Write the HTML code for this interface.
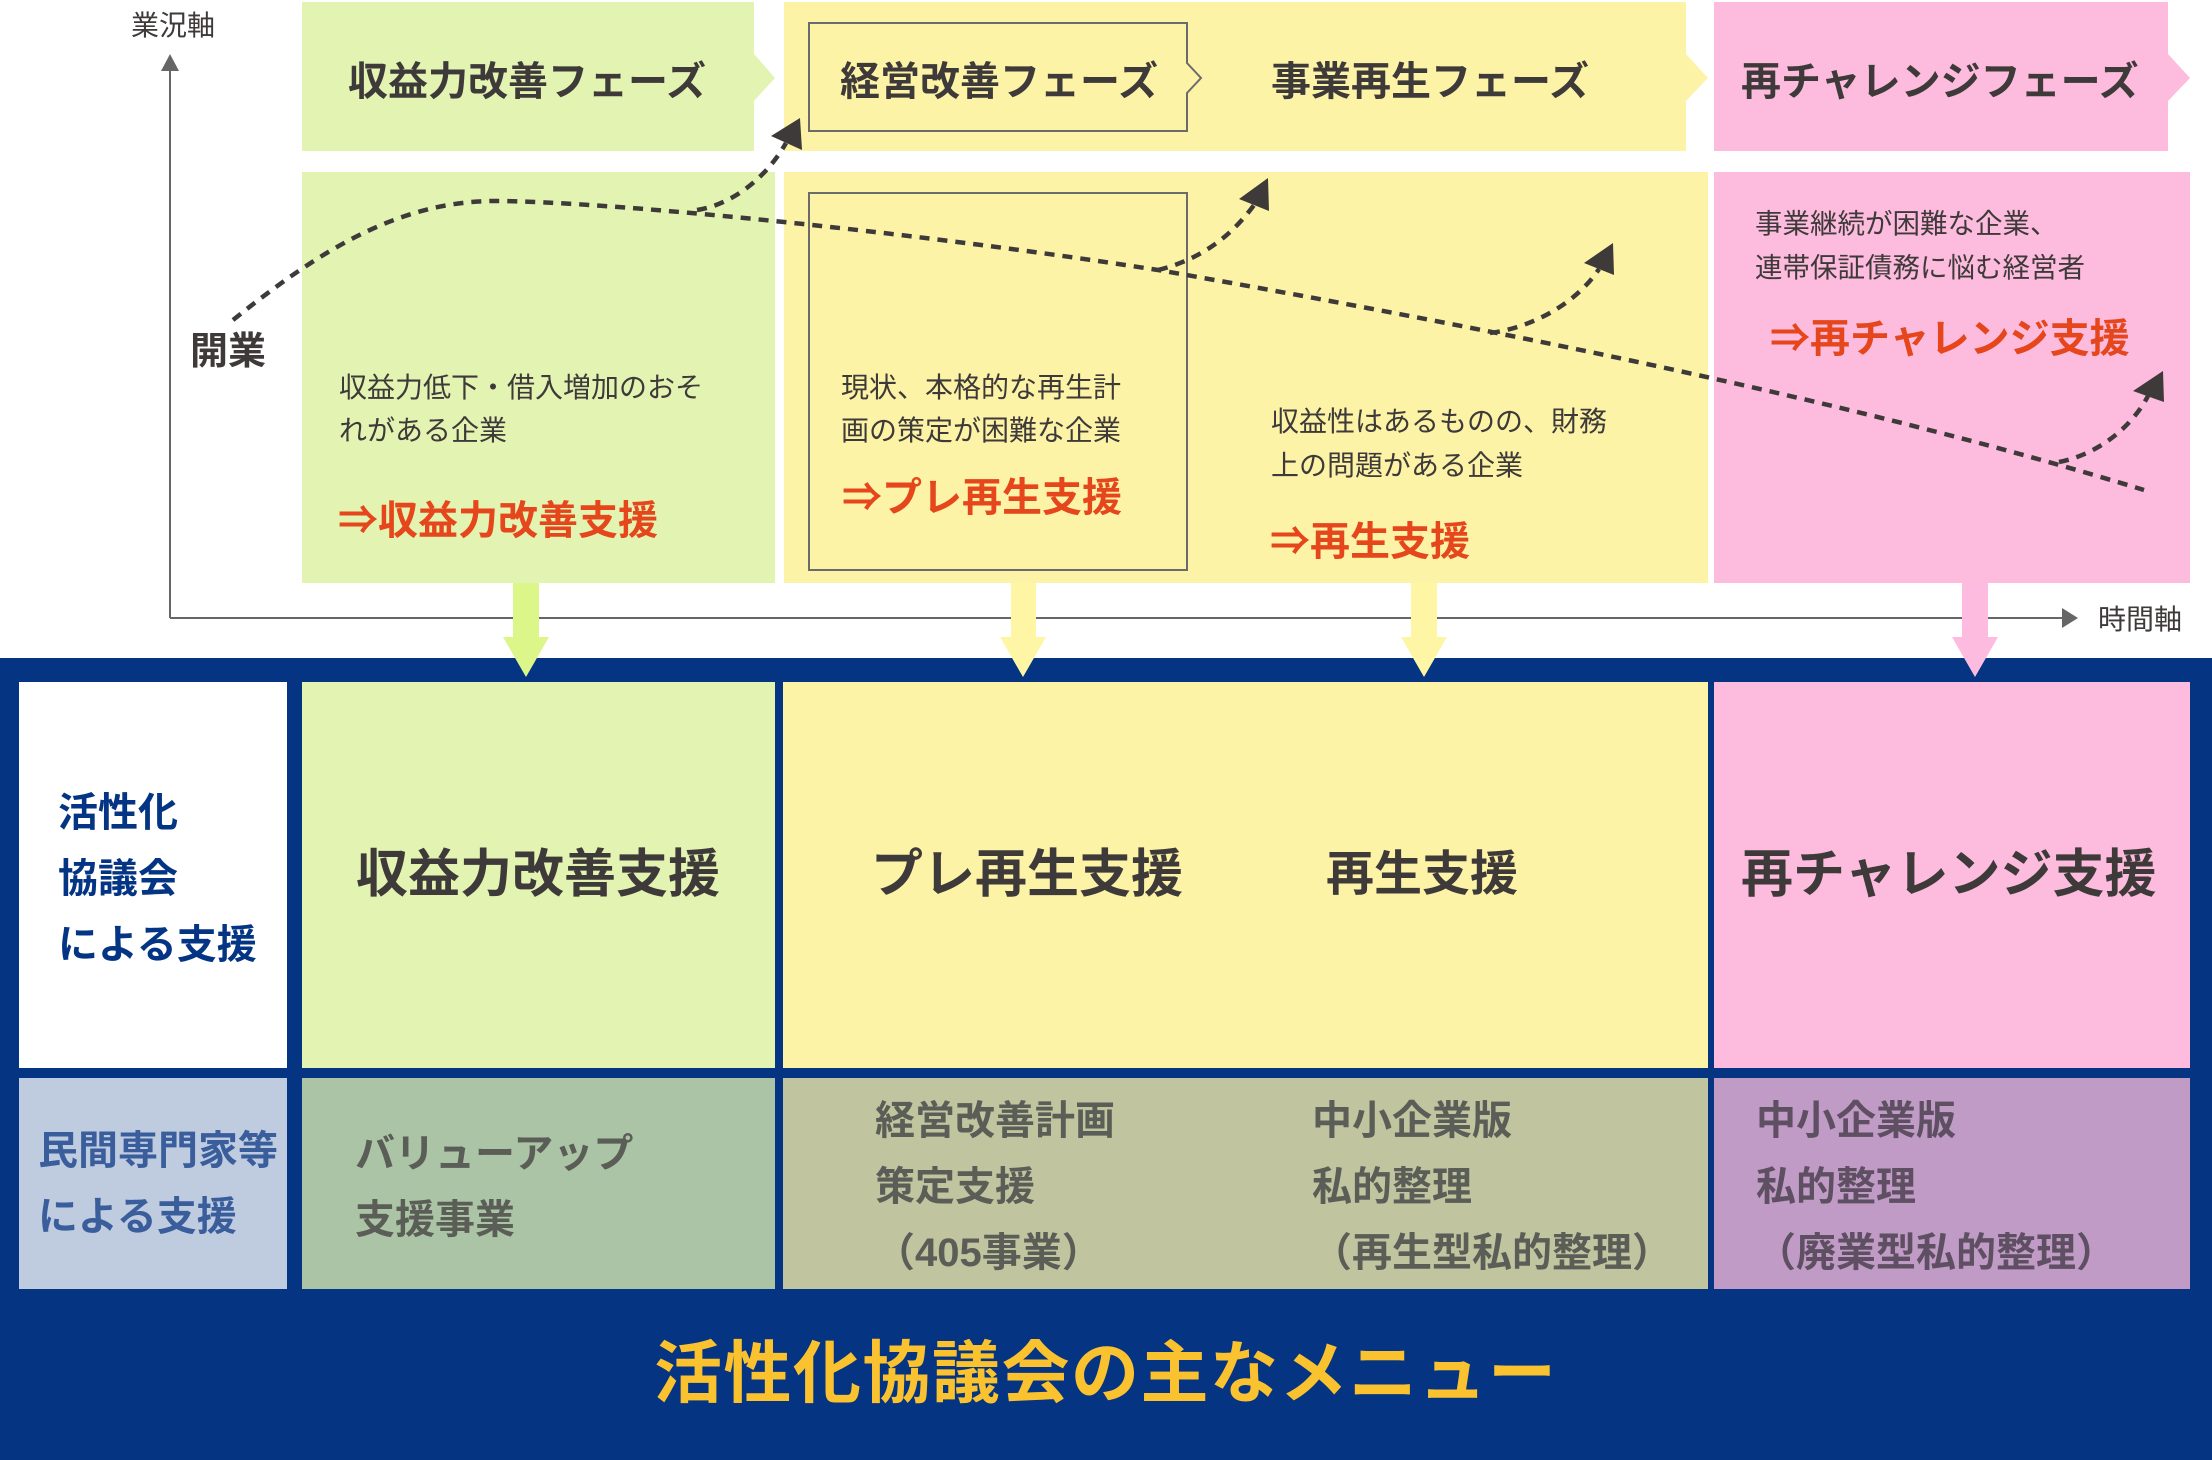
<!DOCTYPE html>
<html><head><meta charset="utf-8">
<style>
html,body{margin:0;padding:0;background:#fff;}
#c{position:relative;width:2212px;height:1460px;overflow:hidden;background:#fff;font-family:"Liberation Sans","Noto Sans CJK JP",sans-serif;}
svg{position:absolute;left:0;top:0;}
.t{position:absolute;white-space:nowrap;color:#3e3a39;}
.ph{font-size:40px;line-height:40px;font-weight:700;}
.ct{font-size:28px;line-height:43px;font-weight:400;}
.rd{font-size:40px;line-height:40px;font-weight:700;color:#e5461c;}
.ar{font-family:"Noto Sans CJK JP",sans-serif;}
.lc{font-size:40px;line-height:66px;font-weight:700;color:#043585;}
.bc{font-size:40px;line-height:66px;font-weight:700;color:#3a5d9c;}
.gb{font-size:40px;line-height:66px;font-weight:700;color:#5b5d57;}
.pb{font-size:40px;line-height:66px;font-weight:700;color:#5e4f62;}
.big{font-size:52px;line-height:52px;font-weight:700;}
</style></head><body>
<div id="c">
<svg width="2212" height="1460" viewBox="0 0 2212 1460">
  <polygon points="302,2 754,2 754,54 775,78 754,101 754,151 302,151" fill="#e3f3b2"/>
  <polygon points="784,2 1686,2 1686,54 1708,78 1686,101 1686,151 784,151" fill="#fdf3a7"/>
  <polygon points="1714,2 2168,2 2168,54 2190,78 2168,101 2168,151 1714,151" fill="#fdbbde"/>
  <path d="M1187,63 L1187,23 L809,23 L809,131 L1187,131 L1187,93 L1201,78 Z" fill="none" stroke="#6b6b6b" stroke-width="2"/>
  <rect x="302" y="172" width="473" height="411" fill="#e3f3b2"/>
  <rect x="784" y="172" width="924" height="411" fill="#fdf3a7"/>
  <rect x="1714" y="172" width="476" height="411" fill="#fdbbde"/>
  <rect x="809" y="193" width="378" height="377" fill="none" stroke="#6b6b6b" stroke-width="2"/>
  <line x1="170" y1="66" x2="170" y2="618" stroke="#666" stroke-width="2"/>
  <polygon points="170,54 161,71 179,71" fill="#666"/>
  <line x1="170" y1="618" x2="2064" y2="618" stroke="#666" stroke-width="2"/>
  <polygon points="2078,618 2062,608 2062,628" fill="#666"/>
  <rect x="0" y="658" width="2212" height="802" fill="#043482"/>
  <rect x="19" y="682" width="268" height="386" fill="#ffffff"/>
  <rect x="302" y="682" width="473" height="386" fill="#e3f3b2"/>
  <rect x="783" y="682" width="925" height="386" fill="#fdf3a7"/>
  <rect x="1714" y="682" width="476" height="386" fill="#fdbbde"/>
  <rect x="19" y="1078" width="268" height="211" fill="#bfcce0"/>
  <rect x="302" y="1078" width="473" height="211" fill="#abc4a5"/>
  <rect x="783" y="1078" width="925" height="211" fill="#c0c49f"/>
  <rect x="1714" y="1078" width="476" height="211" fill="#c09bc6"/>
  <polygon points="513,583 539,583 539,637 549,637 526,677 503,637 513,637" fill="#dcf68a"/>
  <polygon points="1011,583 1036,583 1036,637 1046,637 1023,677 1000,637 1011,637" fill="#fef6a5"/>
  <polygon points="1411,583 1437,583 1437,637 1447,637 1424,677 1401,637 1411,637" fill="#fef6a5"/>
  <polygon points="1962,583 1988,583 1988,637 1998,637 1975,677 1952,637 1962,637" fill="#fdbcdf"/>
  <g fill="none" stroke="#3e3a39" stroke-width="4.5" stroke-dasharray="10 8">
    <path d="M233,320 C320,250 400,201 495,201 C600,201 900,230 1158,270 C1500,330 1850,400 2144,490"/>
    <path d="M697,210 C730,205 765,180 786,143"/>
    <path d="M1158,270 C1190,262 1225,245 1254,205"/>
    <path d="M1490,333 C1530,328 1575,305 1599,269"/>
    <path d="M2059,462 C2095,455 2130,430 2148,396"/>
  </g>
  <g fill="#3e3a39">
    <polygon points="800,118 771,136 802,150"/>
    <polygon points="1268,178 1239,199 1269,211"/>
    <polygon points="1613,243 1584,263 1614,275"/>
    <polygon points="2163,371 2133,391 2164,402"/>
  </g>
</svg>

<div class="t" style="left:131px;top:12px;font-size:28px;line-height:28px;">業況軸</div>
<div class="t" style="left:2098px;top:606px;font-size:28px;line-height:28px;">時間軸</div>
<div class="t" style="left:190px;top:333px;font-size:38px;line-height:38px;font-weight:700;">開業</div>

<div class="t ph" style="left:348px;top:62px;">収益力改善フェーズ</div>
<div class="t ph" style="left:840px;top:62px;">経営改善フェーズ</div>
<div class="t ph" style="left:1271px;top:62px;">事業再生フェーズ</div>
<div class="t ph" style="left:1741px;top:62px;">再チャレンジフェーズ</div>

<div class="t ct" style="left:339px;top:366px;">収益力低下・借入増加のおそ<br>れがある企業</div>
<div class="t rd" style="left:338px;top:497px;"><span class="ar">⇒</span>収益力改善支援</div>

<div class="t ct" style="left:841px;top:366px;">現状、本格的な再生計<br>画の策定が困難な企業</div>
<div class="t rd" style="left:842px;top:474px;"><span class="ar">⇒</span>プレ再生支援</div>

<div class="t ct" style="left:1271px;top:400px;line-height:44px;">収益性はあるものの、財務<br>上の問題がある企業</div>
<div class="t rd" style="left:1270px;top:518px;"><span class="ar">⇒</span>再生支援</div>

<div class="t ct" style="left:1755px;top:202px;line-height:44px;font-size:27.5px;">事業継続が困難な企業、<br>連帯保証債務に悩む経営者</div>
<div class="t rd" style="left:1770px;top:315px;"><span class="ar">⇒</span>再チャレンジ支援</div>

<div class="t lc" style="left:58px;top:780px;">活性化<br>協議会<br>による支援</div>
<div class="t bc" style="left:38px;top:1118px;">民間専門家等<br>による支援</div>

<div class="t big" style="left:356px;top:849px;">収益力改善支援</div>
<div class="t big" style="left:871px;top:849px;">プレ再生支援</div>
<div class="t big" style="left:1326px;top:851px;font-size:48px;line-height:48px;">再生支援</div>
<div class="t big" style="left:1741px;top:849px;">再チャレンジ支援</div>

<div class="t gb" style="left:355px;top:1121px;">バリューアップ<br>支援事業</div>
<div class="t gb" style="left:875px;top:1088px;">経営改善計画<br>策定支援<br>（405事業）</div>
<div class="t gb" style="left:1312px;top:1088px;">中小企業版<br>私的整理<br>（再生型私的整理）</div>
<div class="t pb" style="left:1756px;top:1088px;">中小企業版<br>私的整理<br>（廃業型私的整理）</div>

<div class="t" style="left:654px;top:1340px;font-size:68px;line-height:68px;font-weight:700;color:#fbc22f;letter-spacing:1.5px;">活性化協議会の主なメニュー</div>
</div>
</body></html>
